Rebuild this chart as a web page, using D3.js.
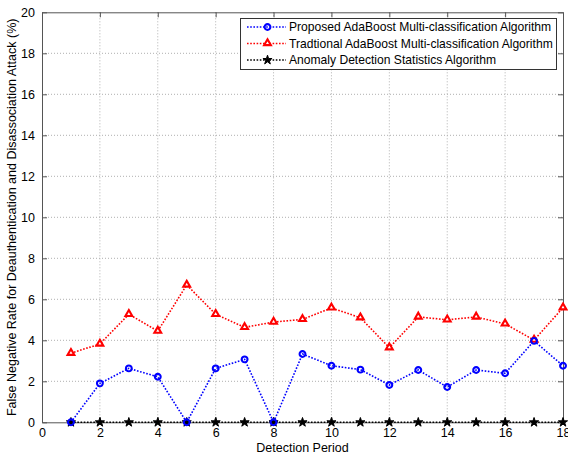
<!DOCTYPE html>
<html>
<head>
<meta charset="utf-8">
<script src="https://cdn.jsdelivr.net/npm/d3@7"></script>
<style>
  body { margin: 0; background: #fff; }
  text { font-family: "Liberation Sans", Arial, sans-serif; }
</style>
</head>
<body>
<script>
//chart data
var periods = [1, 2, 3, 4, 5, 6, 7, 8, 9, 10, 11, 12, 13, 14, 15, 16, 17, 18];
var proposed = [0, 1.9, 2.63, 2.22, 0, 2.63, 3.07, 0, 3.33, 2.76, 2.57, 1.82, 2.55, 1.72, 2.55, 2.39, 3.97, 2.76];
var traditional = [3.37, 3.82, 5.27, 4.45, 6.7, 5.27, 4.63, 4.89, 5.02, 5.58, 5.1, 3.64, 5.14, 5.0, 5.14, 4.8, 4.01, 5.59];
var anomaly = [0, 0, 0, 0, 0, 0, 0, 0, 0, 0, 0, 0, 0, 0, 0, 0, 0, 0];
var xTicks = [0, 2, 4, 6, 8, 10, 12, 14, 16, 18];
var yTicks = [0, 2, 4, 6, 8, 10, 12, 14, 16, 18, 20];
var seriesNames = [
    "Proposed AdaBoost Multi-classification Algorithm",
    "Tradtional AdaBoost Multi-classification Algorithm",
    "Anomaly Detection Statistics Algorithm"
];

var width = 568, height = 457;
var plotL = 42, plotR = 563, plotT = 12.3, plotB = 422.3;

var svg = d3.select("body").append("svg")
    .attr("width", width)
    .attr("height", height);

var x = d3.scaleLinear().domain([0, 18]).range([plotL, plotR]);
var y = d3.scaleLinear().domain([0, 20]).range([plotB, plotT]);

//grid
svg.append("g").selectAll("line").data(xTicks.slice(1, -1)).enter().append("line")
    .attr("x1", d => x(d)).attr("x2", d => x(d))
    .attr("y1", plotT).attr("y2", plotB)
    .attr("stroke", "#b0b0b0").attr("stroke-width", 1)
    .attr("stroke-dasharray", "1,2");
svg.append("g").selectAll("line").data(yTicks.slice(1, -1)).enter().append("line")
    .attr("y1", d => y(d)).attr("y2", d => y(d))
    .attr("x1", plotL).attr("x2", plotR)
    .attr("stroke", "#b0b0b0").attr("stroke-width", 1)
    .attr("stroke-dasharray", "1,2");

//axes, matlab style ticks pointing inward
var xAxis = d3.axisBottom(x).tickValues(xTicks).tickSizeInner(-5).tickSizeOuter(0).tickPadding(6);
var yAxis = d3.axisLeft(y).tickValues(yTicks).tickSizeInner(-5).tickSizeOuter(0).tickPadding(7);
var gx = svg.append("g").attr("transform", "translate(0," + plotB + ")").call(xAxis);
var gy = svg.append("g").attr("transform", "translate(" + plotL + ",0)").call(yAxis);
var gx2 = svg.append("g").attr("transform", "translate(0," + plotT + ")")
    .call(d3.axisTop(x).tickValues(xTicks).tickSizeInner(-5).tickSizeOuter(0).tickFormat(""));
var gy2 = svg.append("g").attr("transform", "translate(" + plotR + ",0)")
    .call(d3.axisRight(y).tickValues(yTicks).tickSizeInner(-5).tickSizeOuter(0).tickFormat(""));
[gx, gy, gx2, gy2].forEach(function(g) {
    g.selectAll("path, line").attr("stroke", "#555").attr("stroke-width", 1);
    g.selectAll("text").attr("font-size", 12.5).attr("fill", "#000")
        .style("font-family", "Liberation Sans, Arial, sans-serif");
});

//labels
svg.append("text")
    .attr("x", (plotL + plotR) / 2).attr("y", 452)
    .attr("text-anchor", "middle").attr("font-size", 12.5)
    .text("Detection Period");
svg.append("text")
    .attr("transform", "translate(15.5," + ((plotT + plotB) / 2) + ") rotate(-90)")
    .attr("text-anchor", "middle").attr("font-size", 12.5)
    .text("False Negative Rate for Deauthentication and Disassociation Attack (%)");

//series
var star = d3.symbol().type(d3.symbolStar).size(26);
var tri = d3.symbol().type(d3.symbolTriangle).size(20);
var series = [
    {vals: proposed, color: "#0000ff", marker: "circle"},
    {vals: traditional, color: "#ff0000", marker: "triangle"},
    {vals: anomaly, color: "#000000", marker: "star"}
];

var line = d3.line().x(d => x(d[0])).y(d => y(d[1]));

function drawMarker(g, marker, color) {
    if (marker === "circle") {
        g.append("circle").attr("r", 2.9)
            .attr("fill", "none").attr("stroke", color).attr("stroke-width", 2.1);
    } else if (marker === "triangle") {
        g.append("path").attr("d", tri).attr("transform", "translate(0,-0.3)")
            .attr("fill", "#fff").attr("stroke", color).attr("stroke-width", 2.1)
            .attr("stroke-linejoin", "miter");
    } else {
        g.append("path").attr("d", star)
            .attr("fill", color).attr("stroke", color).attr("stroke-width", 1);
    }
}

series.slice().reverse().forEach(function(s) {
    var pts = periods.map((p, i) => [p, s.vals[i]]);
    svg.append("path").datum(pts)
        .attr("d", line)
        .attr("fill", "none").attr("stroke", s.color)
        .attr("stroke-width", 1.6).attr("stroke-dasharray", "1.6,1.6");
});
series.slice().reverse().forEach(function(s) {
    periods.forEach(function(p, i) {
        var g = svg.append("g").attr("transform", "translate(" + x(p) + "," + y(s.vals[i]) + ")");
        drawMarker(g, s.marker, s.color);
    });
});

//legend
var lg = svg.append("g");
lg.append("rect")
    .attr("x", 240.5).attr("y", 18.5).attr("width", 316).attr("height", 51)
    .attr("fill", "#fff").attr("stroke", "#333").attr("stroke-width", 1);
seriesNames.forEach(function(name, i) {
    var ly = 27 + i * 16.5;
    lg.append("line")
        .attr("x1", 247).attr("x2", 286).attr("y1", ly).attr("y2", ly)
        .attr("stroke", series[i].color).attr("stroke-width", 1.6)
        .attr("stroke-dasharray", "1.6,1.6");
    var g = lg.append("g").attr("transform", "translate(267.5," + ly + ")");
    drawMarker(g, series[i].marker, series[i].color);
    lg.append("text")
        .attr("x", 289).attr("y", ly + 4.3)
        .attr("font-size", 12.1)
        .text(name);
});
</script>
</body>
</html>
